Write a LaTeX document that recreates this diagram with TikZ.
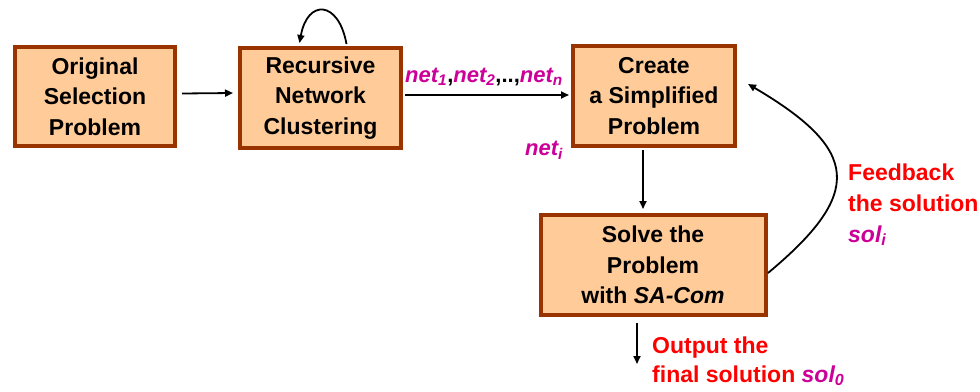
\documentclass[tikz,border=0pt]{standalone}
\usepackage{fontspec}
\setmainfont{Liberation Sans}
\usetikzlibrary{arrows.meta,calc}
\definecolor{boxfill}{HTML}{FFCC99}
\definecolor{boxedge}{HTML}{993300}
\definecolor{notered}{HTML}{FF0000}
\definecolor{notemag}{HTML}{CC0099}
\newcommand{\vname}[1]{\textcolor{notemag}{\textit{#1}}}
\begin{document}
\begin{tikzpicture}[x=1pt,y=-1pt,
  procbox/.style={draw=boxedge, line width=4pt, fill=boxfill, align=center,
    font=\fontsize{23}{30.5}\selectfont\bfseries, inner sep=0pt},
  flow/.style={line width=1.8pt, -{Triangle[length=8pt,width=7pt]}},
  note/.style={anchor=base west, align=left, inner sep=0pt,
    font=\fontsize{23}{31}\selectfont\bfseries}]
\useasboundingbox (0,0) rectangle (980,391);

% process boxes
\node[procbox, minimum width=160pt, minimum height=99pt] (orig) at (95,96.5)
  {Original\\Selection\\Problem};
\node[procbox, minimum width=161pt, minimum height=100pt] (clus) at (320.5,98)
  {Recursive\\Network\\Clustering};
\node[procbox, minimum width=162pt, minimum height=100pt] (simp) at (654,96)
  {Create\\a Simplified\\Problem};
\node[procbox, minimum width=225pt, minimum height=100pt] (solve) at (653,265)
  {Solve the\\Problem\\with \textit{SA-Com}};

% free ends of connectors
\coordinate (outstart) at (637,323);
\coordinate (outend) at (637,364);

% connectors
\draw[flow] ($(orig.east)+(5,-3)$) -- ($(clus.west)+(-5,-5)$);
\draw[flow] ($(clus.east)+(2,-3)$) -- ($(simp.west)+(-2,-1)$);
\draw[flow] ($(clus.north)+(26,-2)$) .. controls +(-8,-44) and +(8,-44) .. ($(clus.north)+(-21,-3)$);
\draw[flow] ($(simp.south)+(-11,2)$) -- ($(solve.north)+(-10,-4)$);
\draw[flow] ($(solve.east)+(0.5,8)$) .. controls +(96,-80) and +(112,66) .. ($(simp.east)+(11,-12)$);
\draw[flow] (outstart) -- (outend);

% labels
\node[note, font=\fontsize{22}{26}\selectfont\bfseries] (netlist) at (405,82)
  {\vname{net\textsubscript{1}},\vname{net\textsubscript{2}},..,\vname{net\textsubscript{n}}};
\node[note, font=\fontsize{22}{26}\selectfont\bfseries] (neti) at (525,155)
  {\vname{net\textsubscript{i}}};
\node[note, text=notered] (fb) at (848,242)
  {Feedback\\the solution\\\vname{sol\textsubscript{i}}};
\node[note, text=notered, font=\fontsize{23}{29}\selectfont\bfseries] (outp) at (652,382)
  {Output the\\final solution \vname{sol\textsubscript{0}}};
\end{tikzpicture}
\end{document}
